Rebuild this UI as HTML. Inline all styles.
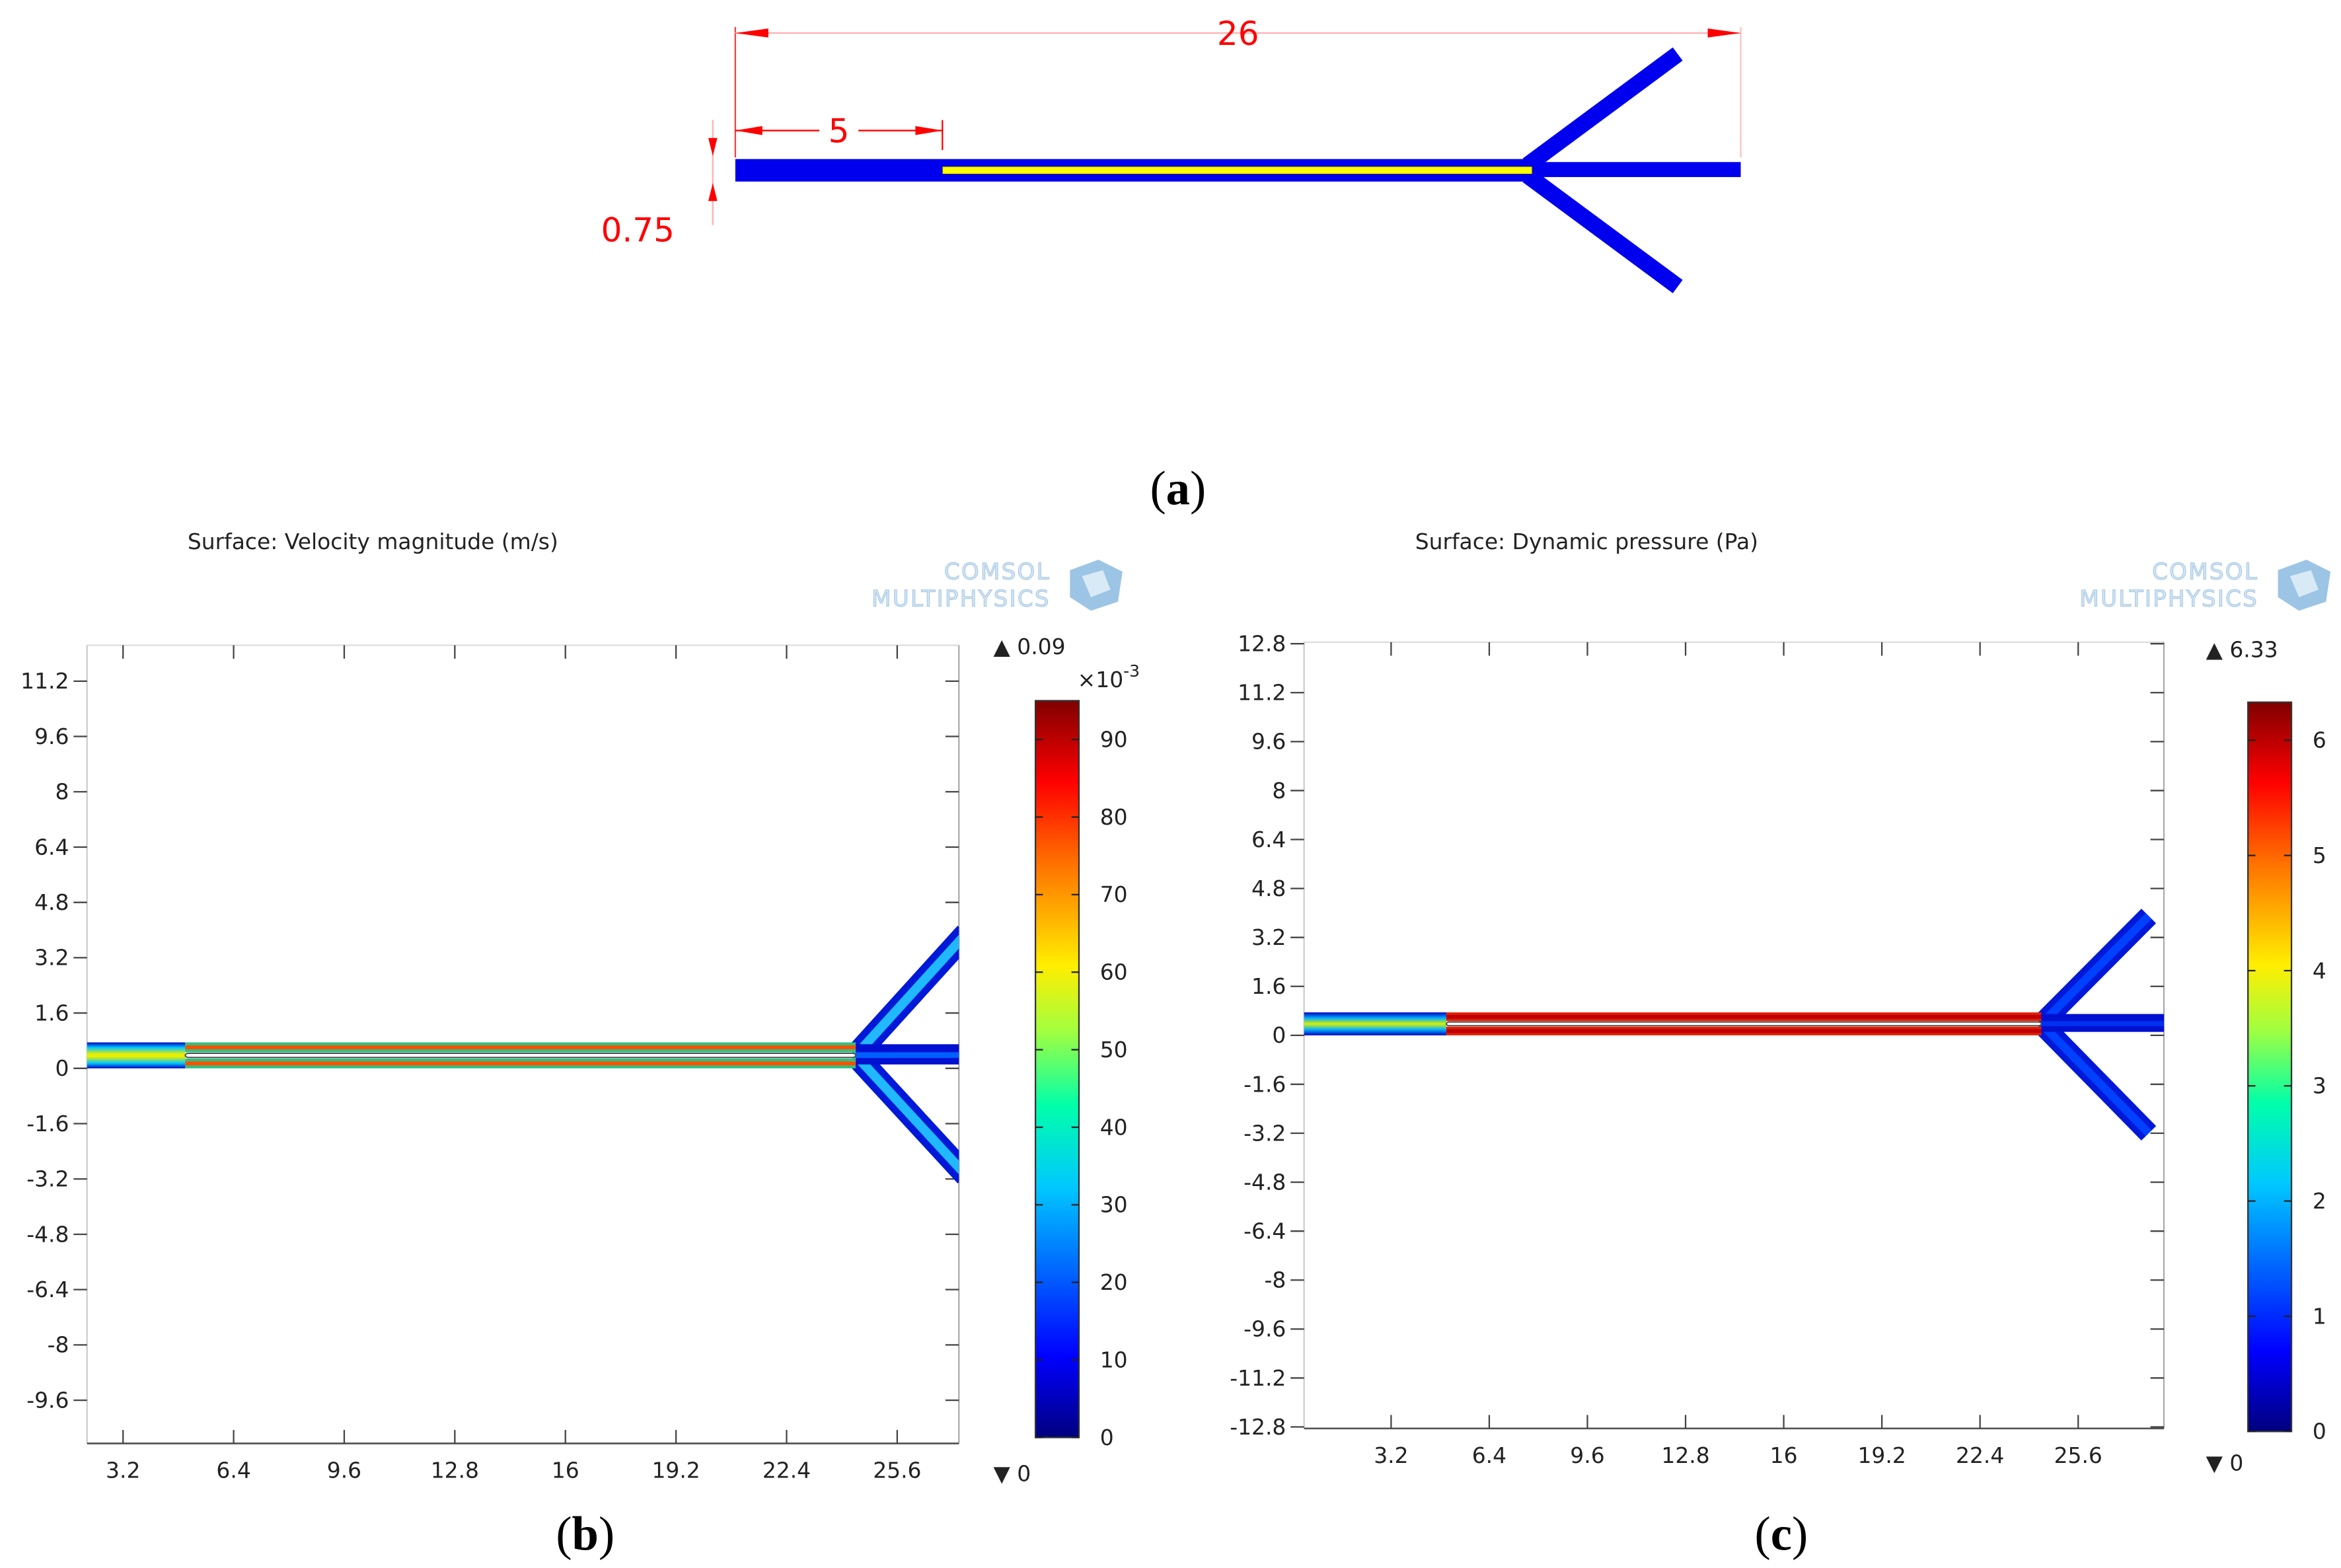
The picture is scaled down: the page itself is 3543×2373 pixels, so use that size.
<!DOCTYPE html>
<html><head><meta charset="utf-8">
<style>
html,body{margin:0;padding:0;background:#fff;}
svg{display:block;}
text{font-family:"DejaVu Sans","Liberation Sans",sans-serif;}
text.serif{font-family:"Liberation Serif",serif;}
</style></head>
<body>
<svg id="fig" width="3543" height="2373" viewBox="0 0 1560 1045" preserveAspectRatio="none" xmlns="http://www.w3.org/2000/svg">
<defs>
<linearGradient id="jet" x1="0" y1="1" x2="0" y2="0">
<stop offset="0" stop-color="#00007f"/><stop offset="0.11" stop-color="#0000ff"/>
<stop offset="0.34" stop-color="#00c8ff"/><stop offset="0.45" stop-color="#00ffaa"/>
<stop offset="0.55" stop-color="#a0ff40"/><stop offset="0.64" stop-color="#ffee00"/>
<stop offset="0.78" stop-color="#ff7000"/><stop offset="0.89" stop-color="#ff0000"/>
<stop offset="1" stop-color="#800000"/></linearGradient>
<linearGradient id="inletB" x1="0" y1="0" x2="0" y2="1">
<stop offset="0" stop-color="#0000c0"/><stop offset="0.2" stop-color="#00c8ff"/><stop offset="0.45" stop-color="#e8f000"/><stop offset="0.55" stop-color="#e8f000"/><stop offset="0.8" stop-color="#00c8ff"/><stop offset="1" stop-color="#0000c0"/></linearGradient>
<linearGradient id="inletC" x1="0" y1="0" x2="0" y2="1">
<stop offset="0" stop-color="#0000c0"/><stop offset="0.25" stop-color="#00b0ff"/><stop offset="0.5" stop-color="#d8f000"/><stop offset="0.75" stop-color="#00b0ff"/><stop offset="1" stop-color="#0000c0"/></linearGradient>
</defs>

<!-- Panel (a) -->
<g>
  <line x1="490" y1="18" x2="490" y2="105" stroke="#ff4040" stroke-width="1"/>
  <line x1="1160" y1="18" x2="1160" y2="105" stroke="#ffc0c0" stroke-width="1"/>
  <line x1="490" y1="22" x2="1160" y2="22" stroke="#ffb0b0" stroke-width="1"/>
  <polygon points="490,22 512,19 512,25" fill="#f00"/>
  <polygon points="1160,22 1138,19 1138,25" fill="#f00"/>
  <text x="825" y="30" font-size="22" fill="#f00" text-anchor="middle">26</text>
  <line x1="490" y1="87" x2="628" y2="87" stroke="#f00" stroke-width="1"/>
  <line x1="628" y1="80" x2="628" y2="100" stroke="#f00" stroke-width="1"/>
  <polygon points="490,87 508,84 508,90" fill="#f00"/>
  <polygon points="628,87 610,84 610,90" fill="#f00"/>
  <rect x="546" y="76" width="26" height="22" fill="#fff"/>
  <text x="559" y="95" font-size="22" fill="#f00" text-anchor="middle">5</text>
  <line x1="475" y1="80" x2="475" y2="150" stroke="#ffb0b0" stroke-width="1"/>
  <polygon points="475,104 472,92 478,92" fill="#f00"/>
  <polygon points="475,122 472,134 478,134" fill="#f00"/>
  <text x="425" y="161" font-size="22" fill="#f00" text-anchor="middle">0.75</text>
  <line x1="1018" y1="110" x2="1118" y2="36" stroke="#0000ee" stroke-width="11"/>
  <line x1="1018" y1="117" x2="1118" y2="191" stroke="#0000ee" stroke-width="11"/>
  <rect x="490" y="106" width="532" height="15" fill="#0000ee"/>
  <rect x="1018" y="108" width="142" height="10" fill="#0000ee"/>
  <rect x="628" y="111" width="393" height="5" fill="#ffff00" stroke="#333" stroke-width="0.4"/>
  <text class="serif" x="785" y="336" font-size="32" text-anchor="middle">(<tspan font-weight="bold">a</tspan>)</text>
</g>

<g id="panelB"></g>
<g id="panelC"></g>

<script>
// Panel (b) data
const bXTicks = [3.2, 6.4, 9.6, 12.8, 16, 19.2, 22.4, 25.6];
const bYTicks = [11.2, 9.6, 8, 6.4, 4.8, 3.2, 1.6, 0, -1.6, -3.2, -4.8, -6.4, -8, -9.6];
const bCbTicks = [0, 10, 20, 30, 40, 50, 60, 70, 80, 90];
const bCbMax = ["0.09"];
const bCbMin = ["0"];
// Panel (c) data
const cXTicks = [3.2, 6.4, 9.6, 12.8, 16, 19.2, 22.4, 25.6];
const cYTicks = [12.8, 11.2, 9.6, 8, 6.4, 4.8, 3.2, 1.6, 0, -1.6, -3.2, -4.8, -6.4, -8, -9.6, -11.2, -12.8];
const cCbTicks = [0, 1, 2, 3, 4, 5, 6];
const cCbMax = ["6.33"];
const cCbMin = ["0"];
// geometry (data units)
const channelH = [0.75];
const insertStart = [5];
const junctionX = [24.4];
const branchEndsB = [[27.6, 3.9], [27.6, -3.1]];
const branchEndsC = [[27.9, 3.9], [27.9, -3.2]];

const NS = "http://www.w3.org/2000/svg";
function mk(parent, tag, attrs, txt){
  const e = document.createElementNS(NS, tag);
  for (const k in attrs) e.setAttribute(k, attrs[k]);
  if (txt !== undefined) e.textContent = txt;
  parent.appendChild(e);
  return e;
}

function drawPanel(g, cfg){
  const sx = v => cfg.x0 + v * cfg.kx;
  const sy = v => cfg.y0 - v * cfg.ky;
  let t = mk(g, "text", {x: cfg.titleX, y: 366, "font-size": 14.5, fill: "#222"}, cfg.title);
  
  
  const lg = mk(g, "g", {});
  
  
  mk(lg, "text", {x: cfg.logoX + 165, y: 386, "font-size": 15, fill: "#d4e6f4", stroke: "#a8c8e4", "stroke-width": 0.5, "text-anchor": "end", "letter-spacing": 1}, "COMSOL");
  mk(lg, "text", {x: cfg.logoX + 165, y: 404, "font-size": 15, fill: "#d4e6f4", stroke: "#a8c8e4", "stroke-width": 0.5, "text-anchor": "end", "letter-spacing": 1}, "MULTIPHYSICS");
  mk(lg, "polygon", {points: `${cfg.logoX+178},380 ${cfg.logoX+197},373 ${cfg.logoX+213},381 ${cfg.logoX+210},401 ${cfg.logoX+192},407 ${cfg.logoX+178},398`, fill: "#9cc4e4"});
  mk(lg, "polygon", {points: `${cfg.logoX+186},384 ${cfg.logoX+200},380 ${cfg.logoX+205},393 ${cfg.logoX+192},398`, fill: "#d8eaf6"});
  const F = cfg.frame;
  const fr = mk(g, "g", {});
  
  
  mk(fr, "line", {x1: F.l, y1: F.t, x2: F.r, y2: F.t, stroke: "#ddd", "stroke-width": 1});
  mk(fr, "line", {x1: F.r, y1: F.t, x2: F.r, y2: F.b, stroke: "#aaa", "stroke-width": 1});
  mk(fr, "line", {x1: F.l, y1: F.t, x2: F.l, y2: F.b, stroke: "#ccc", "stroke-width": 1});
  mk(fr, "line", {x1: F.l, y1: F.b, x2: F.r, y2: F.b, stroke: "#555", "stroke-width": 1.2});
  cfg.xt.forEach(v => {
    const x = sx(v);
    const tk = mk(g, "g", {});
    
    
    mk(tk, "line", {x1: x, y1: F.b, x2: x, y2: F.b - 9, stroke: "#444", "stroke-width": 1});
    mk(tk, "line", {x1: x, y1: F.t, x2: x, y2: F.t + 9, stroke: "#444", "stroke-width": 1});
    mk(tk, "text", {x: x, y: F.b + 23, "font-size": 14.5, fill: "#222", "text-anchor": "middle"}, String(v));
  });
  cfg.yt.forEach(v => {
    const y = sy(v);
    const tk = mk(g, "g", {});
    
    
    mk(tk, "line", {x1: F.l - 9, y1: y, x2: F.l, y2: y, stroke: "#444", "stroke-width": 1});
    mk(tk, "line", {x1: F.r - 9, y1: y, x2: F.r, y2: y, stroke: "#444", "stroke-width": 1});
    mk(tk, "text", {x: F.l - 12, y: y + 5, "font-size": 14.5, fill: "#222", "text-anchor": "end"}, String(v));
  });
  const fg = mk(g, "g", {});
  
  
  const clipId = "clip" + cfg.id;
  const cp = mk(g, "clipPath", {id: clipId});
  mk(cp, "rect", {x: F.l, y: F.t, width: F.r - F.l, height: F.b - F.t});
  fg.setAttribute("clip-path", `url(#${clipId})`);
  const h = channelH[0], xs = insertStart[0], xj = junctionX[0];
  const bw = h * cfg.ky * 0.9;
  cfg.branches.forEach(([ex, ey]) => {
    const b = mk(fg, "line", {x1: sx(xj), y1: sy(h / 2), x2: sx(ex), y2: sy(ey), stroke: "#0018d8", "stroke-width": bw, "stroke-linecap": "butt"});
    
    
    mk(fg, "line", {x1: sx(xj), y1: sy(h / 2), x2: sx(ex), y2: sy(ey), stroke: cfg.branchCore, "stroke-width": bw * 0.4});
  });
  const o = mk(fg, "rect", {x: sx(xj), y: sy(h * 0.93), width: F.r - sx(xj) + 5, height: (h * 0.78) * cfg.ky, fill: "#0010d0"});
  
  
  mk(fg, "rect", {x: sx(xj), y: sy(h * 0.62), width: F.r - sx(xj) + 5, height: h * 0.22 * cfg.ky, fill: cfg.outletCore});
  const inl = mk(fg, "rect", {x: F.l - 5, y: sy(h), width: sx(xs) - F.l + 5, height: h * cfg.ky, fill: cfg.inletFill});
  
  
  const strip = (y1, y2, name) => {
    const s = mk(fg, "rect", {x: sx(xs), y: sy(y2), width: sx(xj) - sx(xs), height: (y2 - y1) * cfg.ky, fill: cfg.stripEdge});
    
    
    mk(fg, "rect", {x: sx(xs), y: sy((y1 + y2) / 2) - 1.3, width: sx(xj) - sx(xs), height: 2.6, fill: cfg.stripCore});
  };
  strip(0, h * 0.38, 'lower-gap');
  strip(h * 0.62, h, 'upper-gap');
  const ins = mk(fg, "rect", {x: sx(xs), y: sy(h * 0.58), width: sx(xj) - sx(xs), height: h * 0.16 * cfg.ky, fill: "#fff", stroke: "#444", "stroke-width": 0.8, rx: 2});
  
  
  const C = cfg.cb;
  const cb = mk(g, "rect", {x: C.x, y: C.t, width: 29, height: C.b - C.t, fill: "url(#jet)", stroke: "#333", "stroke-width": 1});
  
  
  const cs = v => C.b - (v - C.vmin) / (C.vtop - C.vmin) * (C.b - C.t);
  cfg.cbt.forEach(v => {
    const y = cs(v);
    const tk = mk(g, "g", {});
    
    
    mk(tk, "line", {x1: C.x, y1: y, x2: C.x + 5, y2: y, stroke: "#222"});
    mk(tk, "line", {x1: C.x + 24, y1: y, x2: C.x + 29, y2: y, stroke: "#222"});
    mk(tk, "text", {x: C.x + 43, y: y + 5, "font-size": 14.5, fill: "#222"}, String(v));
  });
  const mx = mk(g, "text", {x: C.lx, y: C.maxY, "font-size": 14.5, fill: "#222"}, "▲ " + cfg.max[0]);
  
  
  const mn = mk(g, "text", {x: C.lx, y: C.minY, "font-size": 14.5, fill: "#222"}, "▼ " + cfg.min[0]);
  
  
  if (cfg.exp) {
    const ex = mk(g, "text", {x: 718, y: 458, "font-size": 14.5, fill: "#222"}, "×10");
    
    
    mk(ex, "tspan", {dy: -7, "font-size": 11}, "-3");
  }
  const pl = mk(g, "text", {x: cfg.labelX, y: 1033, "font-size": 32, "text-anchor": "middle", class: "serif"}, "(");
  
  
  mk(pl, "tspan", {"font-weight": "bold"}, cfg.letter);
  mk(pl, "tspan", {}, ")");
}

drawPanel(document.getElementById("panelB"), {
  id: "b", title: "Surface: Velocity magnitude (m/s)", titleX: 125, logoX: 535,
  x0: 8.3, kx: 23.03, y0: 712, ky: 23.04,
  frame: {l: 58, r: 639, t: 430, b: 962},
  xt: bXTicks, yt: bYTicks, cbt: bCbTicks, max: bCbMax, min: bCbMin, exp: true,
  cb: {x: 690, t: 467, b: 958, vmin: 0, vtop: 95, lx: 662, maxY: 436, minY: 987},
  branches: branchEndsB, branchCore: "#20b8ff", outletCore: "#0060ff",
  inletFill: "url(#inletB)", stripEdge: "#30c080", stripCore: "#ff5000",
  labelX: 390, letter: "b"
});
drawPanel(document.getElementById("panelC"), {
  id: "c", title: "Surface: Dynamic pressure (Pa)", titleX: 943, logoX: 1340,
  x0: 861.6, kx: 20.44, y0: 690, ky: 20.39,
  frame: {l: 869, r: 1442, t: 428, b: 952},
  xt: cXTicks, yt: cYTicks, cbt: cCbTicks, max: cCbMax, min: cCbMin, exp: false,
  cb: {x: 1498, t: 468, b: 954, vmin: 0, vtop: 6.33, lx: 1470, maxY: 438, minY: 980},
  branches: branchEndsC, branchCore: "#0040ff", outletCore: "#0030f0",
  inletFill: "url(#inletC)", stripEdge: "#e02000", stripCore: "#c00000",
  labelX: 1187, letter: "c"
});
</script>
</svg>
</body></html>
